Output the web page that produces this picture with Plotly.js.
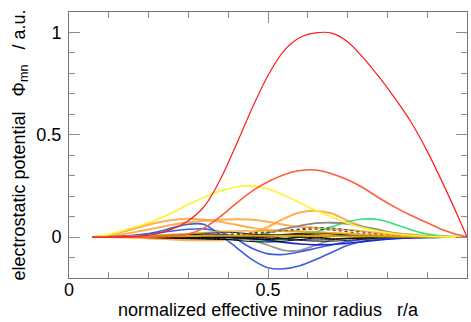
<!DOCTYPE html>
<html>
<head>
<meta charset="utf-8">
<script src="https://cdn.plot.ly/plotly-3.0.1.min.js"></script>
<style>html,body{margin:0;padding:0;background:#fff;}#chart{width:471px;height:322px;}</style>
</head>
<body>
<div id="chart"></div>
<script>
// normalized effective minor radius r/a
var rGrid = [0.06,0.10,0.14,0.18,0.22,0.26,0.30,0.34,0.38,0.42,0.46,0.50,0.54,0.58,0.62,0.66,0.70,0.74,0.78,0.82,0.86,0.90,0.94,0.98,1.00];

// electrostatic potential Phi_mn (a.u.) per mode
var phiRed     = [0,0,0.002,0.005,0.015,0.04,0.08,0.15,0.28,0.45,0.63,0.79,0.91,0.975,0.998,0.997,0.955,0.875,0.78,0.675,0.56,0.42,0.26,0.09,0];
var phiTomato  = [0,0,0,0,0.001,0.004,0.015,0.045,0.10,0.165,0.225,0.27,0.305,0.325,0.328,0.31,0.28,0.24,0.19,0.145,0.105,0.07,0.035,0.01,0];
var phiYellow  = [0,0.012,0.035,0.058,0.085,0.12,0.16,0.195,0.225,0.245,0.25,0.235,0.205,0.168,0.13,0.098,0.068,0.045,0.028,0.016,0.008,0.004,0.002,0,0];
var phiOrangeA = [0,0,0,0,0,0,0,0,0.001,0.005,0.02,0.05,0.09,0.12,0.128,0.115,0.08,0.05,0.03,0.02,0.012,0.006,0.003,0.001,0];
var phiOrangeB = [0,0.01,0.028,0.05,0.07,0.083,0.089,0.085,0.075,0.06,0.045,0.035,0.03,0.028,0.025,0.02,0.015,0.01,0.006,0.003,0.001,0,0,0,0];
var phiOrangeC = [0,0.005,0.015,0.03,0.045,0.06,0.072,0.08,0.085,0.087,0.085,0.075,0.06,0.05,0.045,0.04,0.035,0.028,0.02,0.013,0.008,0.004,0.002,0,0];
var phiOrangeD = [0,0,-0.002,-0.005,-0.008,-0.012,-0.015,-0.016,-0.015,-0.01,-0.003,0.005,0.012,0.015,0.014,0.011,0.008,0.005,0.003,0.002,0.001,0,0,0,0];
var phiBlueA   = [0,0.002,0.005,0.012,0.025,0.045,0.063,0.062,0.01,-0.05,-0.11,-0.15,-0.155,-0.14,-0.11,-0.075,-0.04,-0.02,-0.01,-0.005,-0.003,-0.002,-0.001,0,0];
var phiBlueB   = [0,0.001,0.004,0.01,0.02,0.03,0.038,0.04,0.025,-0.01,-0.055,-0.082,-0.085,-0.072,-0.055,-0.038,-0.022,-0.012,-0.006,-0.003,-0.001,0,0,0,0];
var phiBlueC   = [0,0,0.001,0.003,0.006,0.01,0.014,0.016,0.012,0.004,-0.006,-0.016,-0.026,-0.034,-0.038,-0.036,-0.03,-0.022,-0.014,-0.008,-0.004,-0.002,-0.001,0,0];
var phiGreen   = [0,0,0,0,0,0,0,0,0,-0.005,-0.012,-0.018,-0.012,0.005,0.025,0.05,0.075,0.088,0.085,0.062,0.035,0.015,0.005,0.001,0];
var phiGrayA   = [0,0,0,0,0,0,0,0,0,-0.003,-0.015,-0.04,-0.065,-0.065,-0.04,-0.015,-0.005,0,0,0,0,0,0,0,0];
var phiGrayB   = [0,0,0,0,0,0,0,0,0,0,0.005,0.02,0.04,0.055,0.068,0.07,0.065,0.05,0.035,0.018,0.008,0.003,0,0,0];
var phiGoldA   = [0,0,0.001,0.002,0.003,0.004,0.005,0.006,0.006,0.006,0.006,0.006,0.006,0.006,0.005,0.005,0.004,0.004,0.003,0.002,0.001,0.001,0,0,0];
var phiGoldB   = [0,0.001,0.003,0.006,0.01,0.013,0.016,0.022,0.028,0.03,0.03,0.03,0.028,0.026,0.024,0.02,0.018,0.014,0.01,0.007,0.004,0.002,0.001,0,0];
var phiBlack1  = [0,0,0.001,0.003,0.006,0.01,0.012,0.01,0.004,-0.004,-0.01,-0.012,-0.008,0,0.006,0.008,0.006,0.003,0.001,0,0,0,0,0,0];
var phiBlack2  = [0,0,-0.001,-0.002,-0.004,-0.006,-0.008,-0.01,-0.012,-0.01,-0.005,0.004,0.012,0.018,0.02,0.016,0.01,0.005,0.002,0.001,0,0,0,0,0];
var phiBlack3  = [0,0,0.001,0.002,0.004,0.008,0.014,0.02,0.024,0.022,0.014,0.004,-0.006,-0.012,-0.014,-0.012,-0.008,-0.004,-0.002,-0.001,0,0,0,0,0];
var phiBlack4  = [0,0,0,0.001,0.002,0.003,0.002,-0.002,-0.008,-0.016,-0.022,-0.024,-0.02,-0.012,-0.004,0.002,0.004,0.003,0.002,0.001,0,0,0,0,0];
var phiBlack5  = [0,0,0,0,0.001,0.002,0.004,0.008,0.012,0.016,0.02,0.026,0.032,0.036,0.038,0.034,0.026,0.016,0.008,0.004,0.002,0.001,0,0,0];
var phiBlack6  = [0,0,0,-0.001,-0.002,-0.004,-0.006,-0.006,-0.002,0.004,0.01,0.012,0.008,0.002,-0.004,-0.008,-0.008,-0.006,-0.003,-0.001,0,0,0,0,0];
var phiBlack7  = [0,0,0,0,0,0.001,0.002,0.004,0.006,0.006,0.002,-0.004,-0.01,-0.016,-0.02,-0.02,-0.016,-0.01,-0.005,-0.002,-0.001,0,0,0,0];
var phiBlack8  = [0,0,0,0.001,0.002,0.004,0.006,0.008,0.01,0.012,0.016,0.022,0.03,0.04,0.046,0.044,0.036,0.024,0.014,0.007,0.003,0.001,0,0,0];
var phiBlack9  = [0,0,0,0,-0.001,-0.002,-0.003,-0.004,-0.004,-0.002,0.002,0.006,0.01,0.012,0.01,0.006,0.002,0,-0.001,-0.001,0,0,0,0,0];
var phiBlack10 = [0,0,0.001,0.002,0.003,0.005,0.006,0.006,0.004,0,-0.004,-0.006,-0.006,-0.002,0.002,0.006,0.008,0.007,0.004,0.002,0.001,0,0,0,0];

var xTickVals = [0, 0.5, 1];
var xTickText = ['0', '0.5', '1'];
var yTickVals = [0, 0.5, 1];
var yTickText = ['0', '0.5', '1'];

function tr(y, color, width, dash) {
  return {x: rGrid, y: y, type: 'scatter', mode: 'lines',
          line: {color: color, width: width, shape: 'spline', smoothing: 0.8, dash: dash || 'solid'},
          hoverinfo: 'skip', showlegend: false};
}

var orange = 'rgba(255,160,50,0.85)';
var traces = [
  tr(phiOrangeD, orange, 2),
  tr(phiOrangeB, orange, 2),
  tr(phiOrangeC, orange, 2),
  tr(phiOrangeA, orange, 2),
  tr(phiGreen, '#33E07A', 1.6),
  tr(phiGrayA, '#9a9a9a', 1.8),
  tr(phiGrayB, '#8a8a8a', 1.8),
  tr(phiBlueA, '#3A5EE0', 1.6),
  tr(phiBlueB, '#3A5EE0', 1.6),
  tr(phiBlueC, '#1a2ad0', 1.6),
  tr(phiBlack1, '#000', 1),
  tr(phiBlack2, '#111', 1),
  tr(phiBlack3, '#222', 1),
  tr(phiBlack4, '#000', 1),
  tr(phiBlack5, '#333', 1, 'dot'),
  tr(phiBlack6, '#000', 1),
  tr(phiBlack7, '#222', 1),
  tr(phiBlack8, '#444', 1, 'dot'),
  tr(phiBlack9, '#000', 1),
  tr(phiBlack10, '#111', 1),
  tr(phiGoldA, '#D9A400', 2),
  tr(phiGoldB, 'rgba(230,170,20,0.8)', 1.6),
  tr(phiYellow, '#FFF22E', 1.6),
  tr(phiTomato, '#FF5E3A', 1.6),
  tr(phiRed, '#FF1A1A', 1.2)
];

var fontFam = 'Liberation Sans, Arial, Helvetica, sans-serif';
var sp = '\u00a0\u00a0\u00a0';
var layout = {
  width: 471, height: 322,
  margin: {l: 69, r: 4, t: 12, b: 44, pad: 0},
  paper_bgcolor: '#fff', plot_bgcolor: '#fff',
  font: {family: fontFam, size: 18, color: '#000'},
  xaxis: {
    range: [0, 1], tickmode: 'array', tickvals: xTickVals, ticktext: xTickText,
    ticks: 'inside', ticklen: 11, tickwidth: 1, tickcolor: '#8c8c8c',
    showline: true, linecolor: '#777', linewidth: 1, mirror: 'ticks',
    showgrid: false, zeroline: false, ticklabelstandoff: -5,
    minor: {dtick: 0.1, tick0: 0, ticks: 'inside', ticklen: 6, tickcolor: '#8c8c8c', showgrid: false},
    tickfont: {family: fontFam, size: 18, color: '#000'},
    title: {text: 'normalized effective minor radius' + sp + 'r/a', font: {family: fontFam, size: 18, color: '#000'}, standoff: 2}
  },
  yaxis: {
    range: [-0.2, 1.1], tickmode: 'array', tickvals: yTickVals, ticktext: yTickText,
    ticks: 'inside', ticklen: 11, tickwidth: 1, tickcolor: '#8c8c8c',
    showline: true, linecolor: '#777', linewidth: 1, mirror: 'ticks',
    showgrid: false, zeroline: false, ticklabelstandoff: 3,
    minor: {dtick: 0.1, tick0: 0, ticks: 'inside', ticklen: 6, tickcolor: '#8c8c8c', showgrid: false},
    tickfont: {family: fontFam, size: 18, color: '#000'},
    title: {text: 'electrostatic potential' + sp + '\u03a6<sub>mn</sub>' + sp + '/ a.u.', font: {family: fontFam, size: 18, color: '#000'}, standoff: 6}
  }
};

Plotly.newPlot('chart', traces, layout, {staticPlot: true, displayModeBar: false});
</script>
</body>
</html>
